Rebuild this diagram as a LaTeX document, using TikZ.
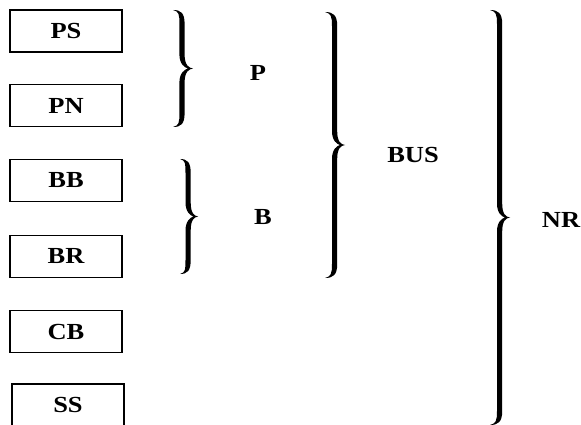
\documentclass[tikz,border=0pt]{standalone}
\usepackage{fontspec}
\setmainfont{Liberation Serif}[FakeStretch=1.15]
\newcommand{\rbr}[5]{% x, top, bottom, width, stem fraction
  \pgfmathsetmacro\bh{#3-#2}%
  \pgfmathsetmacro\bm{\bh/2}%
  \pgfmathsetmacro\bw{#4}%
  \pgfmathsetmacro\ba{#5*#4-2.6}%
  \pgfmathsetmacro\bb{#5*#4+2.6}%
  \pgfmathsetmacro\br{min(14,\bh/8)}%
  \fill[shift={(#1,-#2)},yscale=-1]
    (0,0) .. controls ({0.4*\bw},0) and (\bb,3) .. (\bb,\br)
    -- (\bb,{\bm-\br})
    .. controls (\bb,{\bm-3}) and ({0.8*\bw},{\bm-0.6}) .. (\bw,\bm)
    .. controls ({0.8*\bw},{\bm+0.6}) and (\bb,{\bm+3}) .. (\bb,{\bm+\br})
    -- (\bb,{\bh-\br})
    .. controls (\bb,{\bh-3}) and ({0.4*\bw},\bh) .. (0,\bh)
    .. controls ({0.3*\bw},{\bh-1.5}) and (\ba,{\bh-4}) .. (\ba,{\bh-\br})
    -- (\ba,{\bm+\br})
    .. controls (\ba,{\bm+4}) and ({0.6*\bw},{\bm+1}) .. ({0.74*\bw},\bm)
    .. controls ({0.6*\bw},{\bm-1}) and (\ba,{\bm-4}) .. (\ba,{\bm-\br})
    -- (\ba,\br)
    .. controls (\ba,4) and ({0.3*\bw},1.5) .. (0,0) -- cycle;
}
\begin{document}
\begin{tikzpicture}[x=1pt,y=1pt,
  lbl/.style={font=\fontsize{23}{25}\selectfont\bfseries, inner sep=0pt},
  itembox/.style={draw, line width=1.6pt, minimum width=112pt, minimum height=42pt, inner sep=0pt, font=\fontsize{23}{25}\selectfont\bfseries}]
\useasboundingbox (0,0) rectangle (581,-425);
\node[itembox] (ps) at (66,-31) {PS};
\node[itembox] (pn) at (66,-105.5) {PN};
\node[itembox] (bb) at (66,-180.5) {BB};
\node[itembox] (br) at (66,-256.5) {BR};
\node[itembox] (cb) at (66,-331.5) {CB};
\node[itembox] (ss) at (68,-405) {SS};
\rbr{173}{10}{127}{20}{0.45}
\rbr{180}{159}{274}{18}{0.45}
\rbr{325}{12}{278}{20}{0.48}
\rbr{490}{10}{425}{20}{0.48}
\node[lbl] (p) at (258,-73) {P};
\node[lbl] (b) at (263,-217) {B};
\node[lbl] (bus) at (413,-154.5) {BUS};
\node[lbl] (nr) at (561,-220) {NR};
\end{tikzpicture}
\end{document}
